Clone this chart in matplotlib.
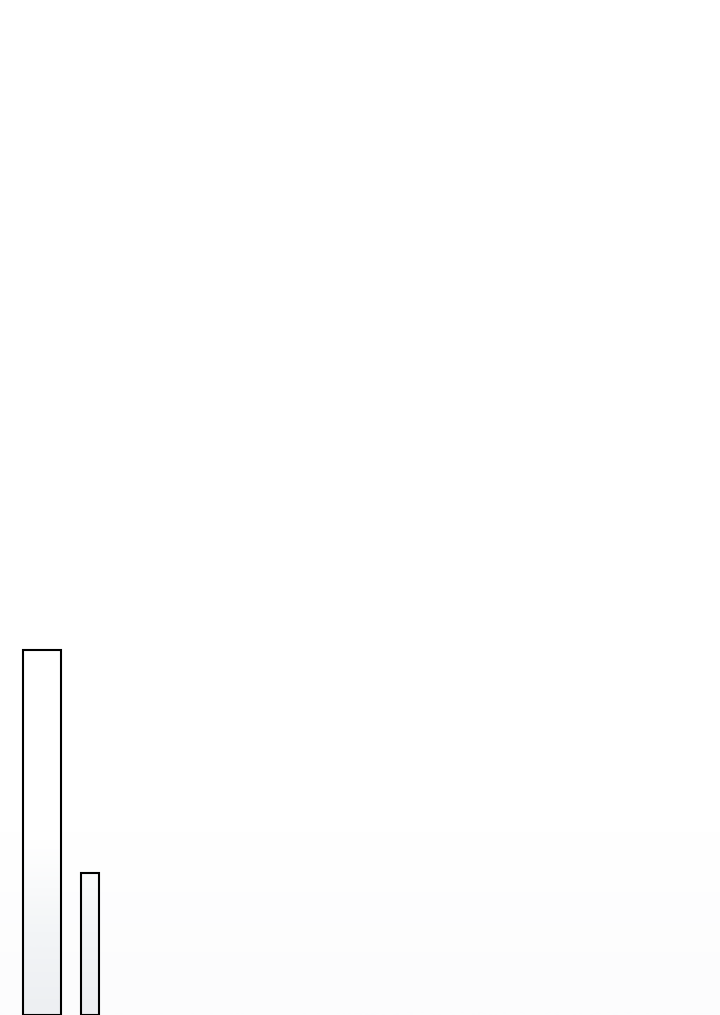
import numpy as np
import matplotlib
matplotlib.use("Agg")
import matplotlib.pyplot as plt
from matplotlib.colors import LinearSegmentedColormap

categories = ["A", "B"]
values = [36.5, 14.2]
widths = [0.79, 0.375]

fig = plt.figure(figsize=(7.2, 10.15), dpi=100)
ax = fig.add_axes([0, 0, 1, 1])
ax.set_xlim(-0.875, 14.125)
ax.set_ylim(0, 101.5)
ax.axis("off")

# faint background shading toward the bottom
grad = np.linspace(0, 1, 512).reshape(-1, 1)
bg = LinearSegmentedColormap.from_list(
    "bg", [(0, "#fcfcfd"), (0.18, "#ffffff"), (1, "#ffffff")])
ax.imshow(grad, cmap=bg, aspect="auto", extent=(-0.875, 14.125, 0, 101.5),
          origin="lower", zorder=0)

bars = ax.bar(range(len(categories)), values, width=widths,
              facecolor="none", edgecolor="black", linewidth=1.5, zorder=3)

fill = LinearSegmentedColormap.from_list(
    "fill", [(0, "#edeff2"), (0.08, "#f3f5f7"), (0.17, "#ffffff"), (1, "#ffffff")])
for b in bars:
    im = ax.imshow(grad, cmap=fill, aspect="auto",
                   extent=(-0.875, 14.125, 0, 101.5), origin="lower", zorder=2)
    im.set_clip_path(b)

fig.savefig("out.png", dpi=100)
